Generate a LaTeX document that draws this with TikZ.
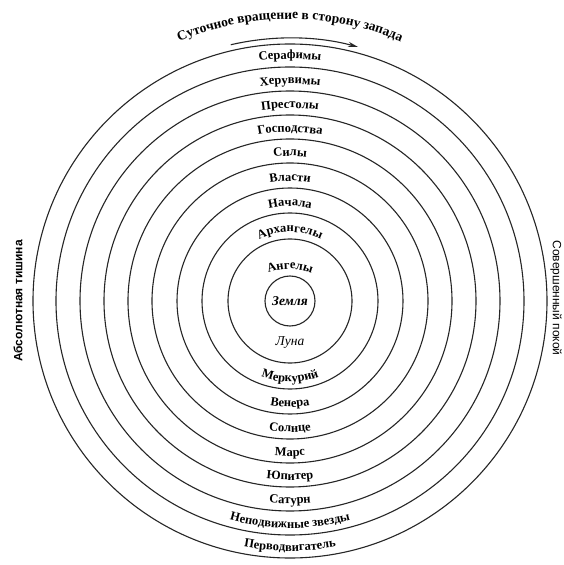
\documentclass[tikz,border=0pt]{standalone}
\usepackage{fontspec}
\setmainfont{Liberation Serif}
\setsansfont{Liberation Sans}
\usetikzlibrary{arrows.meta,decorations.text}

\newcommand\ringfont{\bfseries\fontsize{12.5}{15}\selectfont}
\newcommand\titlefont{\bfseries\fontsize{13.5}{16}\selectfont}

\begin{document}
\begin{tikzpicture}[x=1pt, y=1pt,
                    orbit/.style = {draw=black!85, line width=1.1pt},
                    upper label/.style = {decorate, decoration={text along path, text align=center, text={|\ringfont|#1}}},
                    lower label/.style = {upper label=#1},
                    side label/.style = {font=\sffamily\fontsize{12}{14}\selectfont, inner sep=0pt},
                    spin/.style = {draw=black!85, line width=1.1pt, -{Stealth[length=10pt, width=5pt]}} ]

                \fill [white] (-290,-264) rectangle (274,301);
                \useasboundingbox (-290,-264) rectangle (274,301);

                % spheres
                \foreach \r in {25,62,88,113,138,162,186,210,234,257}
                    \draw [orbit] (0,0) circle [radius=\r];

                \node [font=\bfseries\itshape\fontsize{13.5}{15}\selectfont] (earth) at (0,0) {Земля};
                \node [font=\itshape\fontsize{13.5}{15}\selectfont] (moon) at (0,-42) {Луна};

                % heavens above
                \path [upper label=Ангелы, shift={(0,-28)}] (150:60) arc [start angle=150, end angle=30, radius=60];
                \path [upper label=Архангелы] (150:69) arc [start angle=150, end angle=30, radius=69];
                \path [upper label=Начала] (150:95) arc [start angle=150, end angle=30, radius=95];
                \path [upper label=Власти] (150:120) arc [start angle=150, end angle=30, radius=120];
                \path [upper label=Силы] (150:145) arc [start angle=150, end angle=30, radius=145];
                \path [upper label=Господства] (150:169) arc [start angle=150, end angle=30, radius=169];
                \path [upper label=Престолы] (150:193) arc [start angle=150, end angle=30, radius=193];
                \path [upper label=Херувимы] (150:217) arc [start angle=150, end angle=30, radius=217];
                \path [upper label=Серафимы] (150:242) arc [start angle=150, end angle=30, radius=242];

                % planets below
                \path [lower label=Меркурий] (210:81) arc [start angle=210, end angle=330, radius=81];
                \path [lower label=Венера] (210:106) arc [start angle=210, end angle=330, radius=106];
                \path [lower label=Солнце] (210:131) arc [start angle=210, end angle=330, radius=131];
                \path [lower label=Марс] (210:155) arc [start angle=210, end angle=330, radius=155];
                \path [lower label=Юпитер] (210:179) arc [start angle=210, end angle=330, radius=179];
                \path [lower label=Сатурн] (210:203) arc [start angle=210, end angle=330, radius=203];
                \path [lower label=Неподвижные звезды] (210:227) arc [start angle=210, end angle=330, radius=227];
                \path [lower label=Перводвигатель] (210:250) arc [start angle=210, end angle=330, radius=250];

                % daily rotation
                \path [decorate, decoration={text along path, text align=center, text={|\titlefont|Суточное вращение в сторону запада}}]
                    (140:282) arc [start angle=140, end angle=40, radius=282];
                \coordinate (spin start) at (103:263);
                \coordinate (spin end) at (75:263);
                \draw [spin] (spin start) arc [start angle=103, end angle=75, radius=263];

                % outside
                \node [side label, font=\bfseries\sffamily\fontsize{12}{14}\selectfont, rotate=90] (silence) at (-272,0) {Абсолютная тишина};
                \node [side label, rotate=-90] (rest) at (266,3) {Совершенный покой};
            \end{tikzpicture}
\end{document}
